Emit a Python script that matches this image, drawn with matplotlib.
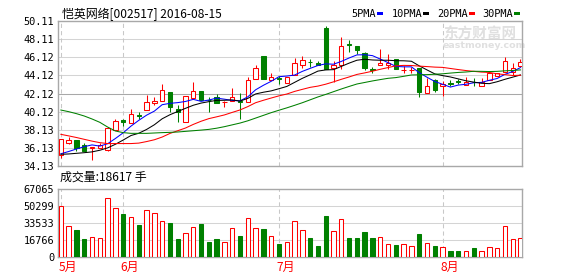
import matplotlib
matplotlib.use("Agg")
import matplotlib.pyplot as plt
import numpy as np

# daily candles, 2016-05 .. 2016-08-15
opens = [35.31, 36.68, 36.97, 36.39, 36.09, 36.12, 35.83, 38.05, 39.22, 38.82,
         39.70, 40.26, 41.04, 41.26, 42.29, 40.40, 38.97, 41.59, 42.43, 41.45,
         41.70, 41.13, 41.29, 41.32, 41.15, 43.76, 46.27, 43.58, 43.80, 43.25,
         44.17, 45.24, 45.65, 45.50, 49.37, 44.98, 45.31, 47.57, 47.38, 46.57,
         44.86, 45.28, 45.31, 45.90, 44.70, 44.70, 44.98, 42.21, 43.61, 42.95,
         43.28, 43.46, 43.06, 43.42, 42.99, 43.61, 44.09, 44.46, 44.53, 45.13]
highs = [37.05, 37.27, 36.97, 36.68, 36.20, 36.64, 38.41, 39.30, 39.33, 40.40,
         40.07, 41.92, 41.76, 43.17, 42.29, 40.88, 41.81, 43.39, 42.43, 41.70,
         42.06, 41.25, 42.73, 42.14, 43.98, 45.24, 46.27, 44.39, 44.09, 43.94,
         46.05, 46.30, 45.90, 45.75, 49.62, 45.68, 48.41, 48.04, 47.38, 46.71,
         45.09, 47.04, 46.46, 45.90, 45.13, 45.09, 44.98, 43.87, 43.76, 43.50,
         43.61, 43.72, 43.91, 43.87, 43.87, 44.61, 44.42, 46.19, 45.50, 45.97]
lows = [35.02, 36.53, 35.76, 35.79, 34.73, 36.12, 35.76, 38.05, 38.52, 38.82,
        39.30, 40.26, 40.88, 41.26, 40.07, 38.97, 38.97, 41.59, 41.37, 40.04,
        41.07, 40.59, 41.29, 39.27, 41.15, 43.76, 43.72, 43.58, 43.14, 43.25,
        44.17, 44.91, 45.05, 45.28, 44.86, 43.39, 44.86, 46.75, 46.46, 44.75,
        44.42, 45.28, 44.86, 44.86, 44.42, 44.35, 41.76, 42.21, 42.29, 41.88,
        43.00, 43.13, 43.06, 42.95, 42.99, 43.61, 44.09, 44.46, 44.17, 45.13]
closes = [37.05, 36.97, 36.12, 35.79, 36.20, 36.42, 38.27, 39.04, 38.93, 39.88,
          39.62, 41.15, 41.26, 42.47, 40.63, 40.04, 41.81, 42.40, 41.37, 41.40,
          41.07, 41.22, 41.70, 41.18, 43.58, 44.98, 43.72, 43.91, 43.72, 43.94,
          45.50, 45.79, 45.57, 45.28, 44.86, 45.28, 47.38, 47.45, 46.97, 44.98,
          44.75, 45.50, 45.50, 44.86, 44.74, 44.74, 42.32, 42.95, 42.51, 43.17,
          43.22, 43.40, 43.39, 43.36, 43.39, 44.35, 44.42, 45.68, 44.91, 45.61]
volumes = [50370, 30750, 27150, 18320, 19950, 18970, 58220, 48410, 42850, 39580,
           32060, 46450, 43830, 35650, 34020, 18320, 23880, 29770, 33040, 15370,
           17990, 15050, 28790, 21260, 38600, 28790, 27800, 20930, 13080, 15050,
           35650, 26820, 18970, 11120, 40890, 25840, 37620, 18970, 18970, 24860,
           18970, 19950, 13080, 12100, 13080, 11120, 22900, 14070, 11120, 10140,
           6540, 6540, 6210, 9160, 6210, 10140, 9160, 30750, 17990, 18617]

# moving averages as shown on the chart
ma5 = [35.45, 35.70, 35.98, 36.24, 36.43, 36.30, 36.56, 37.14, 37.77, 38.51,
       39.15, 39.72, 40.17, 40.88, 41.03, 41.11, 41.24, 41.47, 41.25, 41.40,
       41.61, 41.49, 41.35, 41.31, 41.75, 42.53, 43.03, 43.47, 43.98, 44.05,
       44.16, 44.57, 44.90, 45.22, 45.40, 45.36, 45.67, 46.05, 46.39, 46.41,
       46.31, 45.93, 45.54, 45.12, 45.07, 45.07, 44.43, 43.92, 43.45, 43.14,
       42.83, 43.05, 43.14, 43.31, 43.35, 43.58, 43.78, 44.24, 44.55, 44.99]
ma10 = [35.39, 35.43, 35.50, 35.57, 35.66, 35.84, 36.10, 36.50, 36.97, 37.47,
        37.72, 38.14, 38.66, 39.32, 39.77, 40.13, 40.48, 40.82, 41.06, 41.22,
        41.36, 41.37, 41.41, 41.28, 41.58, 42.07, 42.26, 42.41, 42.65, 42.90,
        43.35, 43.80, 44.19, 44.60, 44.73, 44.76, 45.12, 45.48, 45.80, 45.91,
        45.83, 45.80, 45.80, 45.75, 45.74, 45.69, 45.18, 44.73, 44.29, 44.10,
        43.95, 43.74, 43.53, 43.38, 43.25, 43.21, 43.42, 43.69, 43.93, 44.17]
ma20 = [37.60, 37.43, 37.25, 37.05, 36.85, 36.68, 36.58, 36.58, 36.58, 36.58,
        36.63, 36.80, 37.00, 37.30, 37.70, 38.00, 38.30, 38.70, 39.05, 39.34,
        39.54, 39.75, 40.03, 40.30, 40.67, 41.10, 41.37, 41.62, 41.86, 42.06,
        42.35, 42.58, 42.80, 42.94, 43.15, 43.41, 43.69, 43.95, 44.23, 44.40,
        44.59, 44.80, 44.99, 45.18, 45.23, 45.22, 45.15, 45.10, 45.04, 45.01,
        44.89, 44.77, 44.66, 44.57, 44.49, 44.45, 44.30, 44.21, 44.11, 44.14]
ma30 = [40.29, 40.11, 39.89, 39.63, 39.30, 38.93, 38.41, 37.97, 37.79, 37.71,
        37.71, 37.71, 37.75, 37.79, 37.82, 37.86, 37.93, 38.00, 38.07, 38.15,
        38.28, 38.45, 38.65, 38.85, 39.10, 39.40, 39.70, 40.00, 40.27, 40.53,
        40.81, 41.10, 41.42, 41.74, 42.02, 42.32, 42.62, 42.90, 43.17, 43.34,
        43.51, 43.66, 43.80, 43.88, 44.02, 44.17, 44.19, 44.21, 44.25, 44.30,
        44.38, 44.45, 44.50, 44.58, 44.57, 44.55, 44.57, 44.63, 44.67, 44.73]

month_index = [0, 8, 28, 49]
month_labels = ["5月", "6月", "7月", "8月"]
price_ticks = [34.13, 36.13, 38.13, 40.12, 42.12, 44.12, 46.12, 48.11, 50.11]
volume_ticks = [0, 16766, 33533, 50299, 67065]

title_text = "恺英网络[002517] 2016-08-15"
volume_text = "成交量:18617 手"
ma_names = ["5PMA", "10PMA", "20PMA", "30PMA"]

RED = "#ff0000"
GREEN = "#008000"
FRAME = "#a8a8a8"
GRID = "#d4d4d4"
CJK = ["Noto Sans CJK SC", "DejaVu Sans"]
MONO = "DejaVu Sans Mono"
LW = 0.75

W, H = 578, 276
X0, X1 = 58.3, 522


def fx(px):
    return px / W


def fy(py):
    return 1 - py / H


def style_panel(ax, ticks, labels):
    for s in ax.spines.values():
        s.set_color(FRAME)
        s.set_linewidth(1.0)
    ax.set_yticks(ticks)
    ax.set_yticklabels(labels, fontfamily=MONO, fontsize=7.4)
    ax.tick_params(axis="y", length=0, pad=3)
    ax.set_xticks([])
    for t in ticks[1:-1]:
        ax.axhline(t, color=GRID, linewidth=LW, zorder=0)
    for m in month_index:
        ax.axvline(m, color="#c8c8c8", linewidth=LW,
                   linestyle=(0, (4, 3)), zorder=0)


def draw_price(ax):
    x = np.arange(len(closes))
    o = np.array(opens)
    c = np.array(closes)
    up = c >= o
    colors = np.where(up, RED, GREEN)
    ax.vlines(x, lows, highs, colors=colors, linewidth=LW, zorder=2)
    bottom = np.minimum(o, c)
    height = np.maximum(np.abs(c - o), 0.02)
    faces = np.where(up, "white", GREEN)
    ax.bar(x, height, bottom=bottom, width=0.56, color=faces,
           edgecolor=colors, linewidth=LW, zorder=3)

    for vals, col in zip([ma5, ma10, ma20, ma30], ["#0000ff", "black", RED, GREEN]):
        ax.plot(x, vals, color=col, linewidth=LW, zorder=4)

    ax.set_ylim(price_ticks[0], price_ticks[-1])
    ax.set_xlim(-0.33, -0.33 + (X1 - X0) / 7.79)
    style_panel(ax, price_ticks, [f"{t:.2f}" for t in price_ticks])
    ax.axhline(42.12, color="#a8a8a8", linewidth=LW, zorder=0)


def draw_volume(ax):
    x = np.arange(len(volumes))
    up = np.array(closes) >= np.array(opens)
    colors = np.where(up, RED, GREEN)
    faces = np.where(up, "white", GREEN)
    ax.bar(x, volumes, width=0.56, color=faces, edgecolor=colors,
           linewidth=LW, zorder=3)
    ax.set_ylim(volume_ticks[0], volume_ticks[-1])
    ax.set_xlim(-0.33, -0.33 + (X1 - X0) / 7.79)
    style_panel(ax, volume_ticks, [str(t) for t in volume_ticks])


def main():
    fig = plt.figure(figsize=(W / 100, H / 100), dpi=100)
    ax = fig.add_axes([fx(X0), fy(165.7), fx(X1 - X0), (165.7 - 21.3) / H])
    axv = fig.add_axes([fx(X0), fy(257.3), fx(X1 - X0), (257.3 - 189) / H])

    draw_price(ax)
    draw_volume(axv)

    # watermark
    ax.text(fx(443), fy(34), "东方财富网", transform=fig.transFigure,
            fontsize=10.5, fontweight="bold", family=CJK, color="#e0e0e0",
            va="center", ha="left", zorder=1)
    ax.text(fx(443), fy(46), "eastmoney.com", transform=fig.transFigure,
            fontsize=6.8, fontweight="bold", color="#e0e0e0",
            va="center", ha="left", zorder=1)

    fig.text(fx(62), fy(14), title_text, family=CJK, fontsize=8.6,
             va="center", ha="left")
    fig.text(fx(60), fy(177), volume_text, family=CJK, fontsize=8.6,
             va="center", ha="left")

    # MA legend
    legend_x = [351, 392, 437, 482]
    legend_sq = [377, 423, 469, 514]
    for name, lx, sx, col in zip(ma_names, legend_x, legend_sq,
                                 ["#0000ff", "black", RED, GREEN]):
        fig.text(fx(lx), fy(14), name, fontfamily=MONO, fontsize=7.4,
                 va="center", ha="left")
        fig.patches.append(plt.Rectangle((fx(sx), fy(15)), 6 / W, 3 / H,
                                         transform=fig.transFigure,
                                         facecolor=col, edgecolor="none"))

    for m, lab in zip(month_index, month_labels):
        px = X0 + (m + 0.33) * 7.79 - 2.5
        fig.text(fx(px), fy(267), lab, family=CJK, fontsize=8.6, color=RED,
                 va="center", ha="left")

    fig.savefig("out.png", dpi=100)
    plt.close(fig)


if __name__ == "__main__":
    main()
